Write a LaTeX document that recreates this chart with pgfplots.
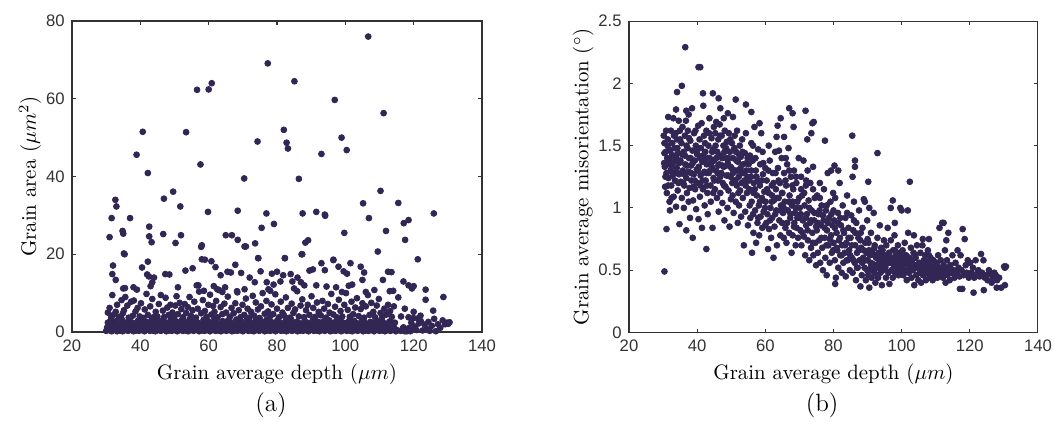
\documentclass[border=0pt]{standalone}
\usepackage{fontspec}
\usepackage{pgfplots}
\pgfplotsset{compat=1.18}
\newfontfamily\tickfont{Liberation Sans}
\definecolor{dotcol}{RGB}{50,38,84}
\definecolor{axcol}{RGB}{50,50,50}
\pgfplotsset{
  dots/.style={only marks, mark=*, mark size=1.4pt, color=dotcol,
      mark options={solid, draw=none, fill=dotcol}},
  mystyle/.style={
    scale only axis,
    anchor=south west,
    xmin=20, xmax=140,
    xtick={20,40,...,140},
    axis line style={axcol, line width=0.5pt},
    tick style={axcol, line width=0.5pt},
    major tick length=1.8pt,
    tick align=inside,
    ticklabel style={font=\tickfont\fontsize{8}{9}\selectfont, text=axcol},
    /pgf/number format/assume math mode=true,
    label style={font=\fontsize{10}{12}\selectfont},
    ylabel shift=-4.5pt,
    xlabel shift=-1pt,
    clip=false,
  }
}
\begin{document}
\begin{tikzpicture}
\useasboundingbox (0,0) rectangle (505.44pt,202.08pt);
% ---------------- panel (a)
\begin{axis}[mystyle,
  at={(34.56pt,42.72pt)}, width=196.8pt, height=149.28pt,
  ymin=0, ymax=80, ytick={0,20,...,80},
  xlabel={Grain average depth ($\mu m$)},
  ylabel={Grain area ($\mu m^2$)},
]
% sparse large grains
\addplot[dots] coordinates {
(106.7,76.0)(77.3,69.1)(85.1,64.5)(60.9,64.0)(60.0,62.4)(56.6,62.3)(96.9,59.7)(111.2,56.3)
(40.7,51.5)(53.4,51.4)(82.0,52.0)(98.9,50.0)(82.8,48.7)(83.2,47.2)(74.3,49.0)(100.4,46.8)
(38.9,45.6)(93.0,45.8)(57.6,43.1)(42.2,40.9)(70.4,39.5)(86.4,39.4)(110.3,36.3)(49.6,36.1)
(32.7,34.0)(33.0,32.3)(46.9,34.3)(51.7,32.3)(105.2,33.1)(115.5,33.2)(125.9,30.5)(59.8,30.9)
(68.5,31.2)(76.9,30.5)(87.5,30.5)(91.5,30.9)(94.0,30.2)(94.1,29.9)(31.6,29.3)(37.0,29.3)
(106.9,29.3)(118.5,28.8)(117.1,28.0)(79.1,27.8)(42.6,27.1)(75.5,26.8)(34.8,26.0)(35.0,25.3)
(111.9,26.0)(99.7,25.5)(31.0,24.4)(46.7,25.2)(51.9,24.9)(42.6,24.6)(43.3,23.1)(65.0,24.9)
(66.8,24.9)(68.5,23.7)(117.5,23.7)(50.3,22.9)(73.6,22.8)(57.8,21.9)(58.0,22.3)(70.5,22.0)
(70.9,22.0)(88.3,23.0)(89.1,23.6)(109.5,20.7)(121.2,18.7)(96.5,18.5)(42.2,18.1)(74.5,19.0)
(82.3,19.0)(58.9,18.6)(35.2,20.2)(35.4,20.0)(87.4,20.0)
};
% band 10-20
\addplot[dots] coordinates {
(32.0,17.1)(31.8,14.9)(32.8,13.4)(35.0,11.2)(35.5,11.3)(38.0,11.5)(39.0,10.9)(40.5,16.6)
(42.0,14.8)(42.5,14.3)(43.0,11.8)(43.5,12.8)(44.0,14.0)(47.3,14.9)(48.5,14.8)(51.0,11.5)
(53.2,15.8)(55.3,16.4)(56.5,12.0)(57.0,12.0)(58.0,18.7)(58.6,10.6)(60.8,18.2)(62.0,16.7)
(61.5,11.8)(62.5,11.0)(63.5,14.6)(64.0,10.3)(64.8,11.5)(65.5,15.5)(66.5,15.3)(67.8,17.3)
(68.3,10.5)(69.5,15.2)(70.5,11.0)(72.0,14.0)(73.5,12.8)(74.5,19.0)(75.2,15.6)(77.0,12.8)
(77.5,11.0)(78.0,10.6)(78.5,15.0)(79.0,12.2)(80.0,15.5)(81.0,13.0)(81.8,14.6)(82.3,19.0)
(84.0,14.9)(84.5,13.0)(85.0,11.2)(86.0,14.0)(87.0,12.8)(87.2,20.0)(88.0,12.0)(89.5,15.8)
(90.5,16.1)(91.5,12.0)(93.0,17.7)(94.0,15.9)(94.5,11.7)(96.5,18.6)(97.3,11.5)(98.0,16.8)
(99.0,10.3)(99.5,15.6)(100.5,15.0)(101.0,11.9)(101.5,17.7)(102.0,12.2)(104.5,16.8)(105.0,13.4)
(105.5,15.3)(106.0,10.3)(108.5,10.8)(111.0,13.4)(112.5,15.5)(113.0,10.5)(113.5,15.4)(114.0,10.6)
(117.0,13.0)(118.5,12.0)(119.5,11.2)(123.5,10.9)(120.0,11.8)
};
% band 3-10
\addplot[dots] coordinates {
(30.5,5.0)(31.0,6.2)(31.5,3.8)(31.8,9.5)(32.3,4.5)(32.8,5.2)(33.2,7.0)(33.8,3.9)(34.5,8.2)
(34.9,4.8)(35.2,5.6)(35.6,9.0)(36.2,6.8)(36.6,3.7)(37.3,7.8)(37.8,4.2)(38.1,8.1)(38.6,5.3)
(39.2,6.2)(39.8,4.0)(40.2,7.4)(40.6,3.6)(41.3,5.8)(41.8,9.8)(42.2,4.4)(42.9,6.6)(43.5,8.5)
(43.8,3.8)(44.5,5.2)(45.0,4.0)(45.4,7.2)(46.0,9.5)(46.6,5.5)(47.0,3.9)(47.4,8.8)(47.9,6.3)
(48.3,4.4)(48.8,7.0)(49.4,5.0)(49.9,3.6)(50.2,6.8)(50.6,9.2)(51.0,4.6)(51.5,7.5)(52.0,5.9)
(52.5,3.8)(53.0,7.2)(53.4,4.9)(53.9,6.4)(54.4,9.0)(54.8,4.2)(55.3,5.6)(55.8,7.8)(56.3,3.7)
(56.8,6.0)(57.2,10.4)(57.8,4.8)(58.3,8.2)(58.9,5.4)(59.4,3.9)(59.9,7.0)(60.4,9.6)(60.8,4.5)
(61.3,6.7)(61.7,5.2)(62.2,8.0)(62.6,3.8)(63.0,10.8)(63.5,6.4)(64.0,4.6)(64.6,7.3)(65.1,5.0)
(65.6,9.1)(66.2,3.9)(66.7,6.2)(67.3,4.8)(67.8,7.4)(68.4,10.2)(68.8,5.6)(69.3,3.8)(69.9,7.0)
(70.4,4.4)(70.9,8.6)(71.4,6.0)(71.9,3.7)(72.4,5.2)(72.9,9.3)(73.3,4.2)(73.8,7.6)(74.4,5.8)
(74.9,3.6)(75.3,6.6)(75.8,10.0)(76.4,4.7)(76.9,8.0)(77.4,5.3)(77.9,3.9)(78.4,7.1)(78.9,4.6)
(79.5,9.7)(80.0,6.0)(80.6,3.8)(81.1,7.8)(81.6,5.0)(82.1,4.2)(82.6,8.9)(83.2,6.2)(83.7,3.7)
(84.3,7.3)(84.8,4.9)(85.3,5.8)(85.9,10.5)(86.4,4.0)(86.9,6.8)(87.4,8.4)(87.9,3.8)(88.5,5.6)
(89.0,7.0)(89.5,4.4)(90.1,9.2)(90.6,6.2)(91.2,3.9)(91.7,7.6)(92.2,5.2)(92.8,4.3)(93.3,8.0)
(93.8,6.0)(94.4,3.7)(94.9,7.2)(95.4,5.0)(95.9,9.8)(96.5,4.5)(97.0,6.5)(97.5,3.8)(98.1,8.3)
(98.6,5.4)(99.1,4.0)(99.7,7.0)(100.2,10.0)(100.7,5.7)(101.3,3.9)(101.8,7.8)(102.3,4.6)(102.9,6.3)
(103.4,8.7)(103.9,4.1)(104.5,5.9)(105.0,7.4)(105.5,3.7)(106.0,6.6)(106.6,9.5)(107.1,4.4)(107.6,7.5)
(108.2,5.2)(108.7,3.8)(109.2,6.8)(109.8,8.5)(110.3,4.9)(110.8,3.7)(111.4,6.0)(112.0,4.5)(112.5,7.0)
(113.1,5.4)(113.6,3.9)(114.2,6.6)(115.5,8.9)(116.3,4.0)(117.4,6.0)(120.0,5.2)(122.0,4.2)(123.5,8.3)
(125.7,5.5)(128.7,9.0)(118.5,3.8)(121.2,3.5)
};
% dense band 0-3.5
\addplot[dots] coordinates {
(30.0,0.3)(30.3,1.2)(30.5,2.4)(30.8,0.5)(31.1,1.6)(31.3,3.0)(31.6,0.2)(31.9,1.0)(32.1,2.2)(32.4,0.6)(32.7,1.5)(32.9,2.8)
(33.2,0.2)(33.5,1.1)(33.7,2.0)(34.0,0.4)(34.3,1.8)(34.5,3.4)(34.8,0.2)(35.1,0.9)(35.3,2.5)(35.6,0.5)(35.9,1.4)(36.1,2.1)
(36.4,0.3)(36.7,1.7)(36.9,3.1)(37.2,0.6)(37.5,1.2)(37.7,2.4)(38.0,0.2)(38.3,1.0)(38.5,1.9)(38.8,0.4)(39.1,1.5)(39.3,2.9)
(39.6,0.3)(39.9,1.1)(40.1,2.2)(40.4,0.5)(40.7,1.8)(40.9,3.6)(41.2,0.2)(41.5,1.3)(41.7,2.6)(42.0,0.6)(42.3,1.0)(42.5,2.0)
(42.8,0.3)(43.1,1.6)(43.3,3.2)(43.6,0.4)(43.9,1.2)(44.1,2.3)(44.4,0.2)(44.7,1.7)(44.9,2.8)(45.2,0.5)(45.5,1.0)(45.7,2.1)
(46.0,0.3)(46.3,1.4)(46.5,3.0)(46.8,0.6)(47.1,1.9)(47.3,2.5)(47.6,0.2)(47.9,1.1)(48.1,2.2)(48.4,0.4)(48.7,1.5)(48.9,3.3)
(49.2,0.3)(49.5,1.2)(49.7,2.0)(50.0,0.5)(50.3,1.8)(50.5,2.7)(50.8,0.2)(51.1,1.0)(51.3,2.3)(51.6,0.6)(51.9,1.6)(52.1,3.0)
(52.4,0.3)(52.7,1.3)(52.9,2.1)(53.2,0.4)(53.5,1.9)(53.7,2.6)(54.0,0.2)(54.3,1.1)(54.5,3.4)(54.8,0.5)(55.1,1.5)(55.3,2.2)
(55.6,0.3)(55.9,1.0)(56.1,2.9)(56.4,0.6)(56.7,1.7)(56.9,2.4)(57.2,0.2)(57.5,1.2)(57.7,2.0)(58.0,0.4)(58.3,1.6)(58.5,3.1)
(58.8,0.3)(59.1,1.0)(59.3,2.3)(59.6,0.5)(59.9,1.8)(60.1,2.7)(60.4,0.2)(60.7,1.3)(60.9,2.1)(61.2,0.6)(61.5,1.1)(61.7,3.5)
(62.0,0.3)(62.3,1.5)(62.5,2.4)(62.8,0.4)(63.1,1.9)(63.3,2.0)(63.6,0.2)(63.9,1.0)(64.1,2.8)(64.4,0.5)(64.7,1.4)(64.9,2.2)
(65.2,0.3)(65.5,1.7)(65.7,3.0)(66.0,0.6)(66.3,1.2)(66.5,2.5)(66.8,0.2)(67.1,1.0)(67.3,2.0)(67.6,0.4)(67.9,1.6)(68.1,3.2)
(68.4,0.3)(68.7,1.3)(68.9,2.3)(69.2,0.5)(69.5,1.8)(69.7,2.6)(70.0,0.2)(70.3,1.1)(70.5,2.1)(70.8,0.6)(71.1,1.5)(71.3,3.4)
(71.6,0.3)(71.9,1.0)(72.1,2.4)(72.4,0.4)(72.7,1.9)(72.9,2.0)(73.2,0.2)(73.5,1.2)(73.7,2.9)(74.0,0.5)(74.3,1.6)(74.5,2.2)
(74.8,0.3)(75.1,1.0)(75.3,2.7)(75.6,0.6)(75.9,1.4)(76.1,2.0)(76.4,0.2)(76.7,1.8)(76.9,3.1)(77.2,0.4)(77.5,1.1)(77.7,2.3)
(78.0,0.3)(78.3,1.5)(78.5,2.5)(78.8,0.5)(79.1,1.0)(79.3,2.1)(79.6,0.2)(79.9,1.7)(80.1,3.0)(80.4,0.6)(80.7,1.2)(80.9,2.4)
(81.2,0.3)(81.5,1.9)(81.7,2.0)(82.0,0.4)(82.3,1.0)(82.5,2.8)(82.8,0.2)(83.1,1.4)(83.3,2.2)(83.6,0.5)(83.9,1.6)(84.1,3.3)
(84.4,0.3)(84.7,1.1)(84.9,2.0)(85.2,0.6)(85.5,1.8)(85.7,2.6)(86.0,0.2)(86.3,1.0)(86.5,2.3)(86.8,0.4)(87.1,1.5)(87.3,2.1)
(87.6,0.3)(87.9,1.2)(88.1,2.9)(88.4,0.5)(88.7,1.7)(88.9,2.4)(89.2,0.2)(89.5,1.0)(89.7,2.0)(90.0,0.6)(90.3,1.3)(90.5,3.1)
(90.8,0.3)(91.1,1.9)(91.3,2.2)(91.6,0.4)(91.9,1.1)(92.1,2.6)(92.4,0.2)(92.7,1.6)(92.9,2.0)(93.2,0.5)(93.5,1.0)(93.7,2.8)
(94.0,0.3)(94.3,1.4)(94.5,2.3)(94.8,0.6)(95.1,1.8)(95.3,3.0)(95.6,0.2)(95.9,1.2)(96.1,2.1)(96.4,0.4)(96.7,1.0)(96.9,2.5)
(97.2,0.3)(97.5,1.5)(97.7,2.0)(98.0,0.5)(98.3,1.7)(98.5,3.2)(98.8,0.2)(99.1,1.1)(99.3,2.4)(99.6,0.6)(99.9,1.3)(100.1,2.2)
(100.4,0.3)(100.7,1.9)(100.9,2.7)(101.2,0.4)(101.5,1.0)(101.7,2.0)(102.0,0.2)(102.3,1.6)(102.5,2.9)(102.8,0.5)(103.1,1.2)(103.3,2.3)
(103.6,0.3)(103.9,1.8)(104.1,2.1)(104.4,0.6)(104.7,1.0)(104.9,3.0)(105.2,0.2)(105.5,1.4)(105.7,2.4)(106.0,0.4)(106.3,1.7)(106.5,2.0)
(106.8,0.3)(107.1,1.1)(107.3,2.6)(107.6,0.5)(107.9,1.5)(108.1,2.2)(108.4,0.2)(108.7,1.0)(108.9,2.8)(109.2,0.6)(109.5,1.8)(109.7,2.1)
(110.0,0.3)(110.3,1.2)(110.5,3.2)(110.8,0.4)(111.1,1.6)(111.3,2.3)(111.6,0.2)(111.9,1.0)(112.1,2.0)(112.4,0.5)(112.7,1.4)(112.9,2.7)
(113.2,0.3)(113.5,1.9)(113.7,2.2)(114.0,0.6)(114.3,1.1)(114.5,2.4)(114.8,0.2)(115.1,0.5)
(116.2,0.3)(117.0,1.2)(117.4,0.2)(117.9,0.6)(118.3,0.4)(118.6,1.0)(119.0,0.2)(119.3,2.4)(119.9,3.6)(120.3,1.4)(120.8,0.5)
(121.5,2.2)(122.1,2.8)(122.6,0.4)(123.2,1.9)(123.8,0.8)(124.3,2.6)(124.7,0.3)(125.3,1.6)(126.0,3.4)(126.5,0.2)(127.1,2.0)
(127.8,1.1)(128.5,3.0)(129.2,2.0)(130.1,2.1)(130.5,2.5)(129.8,2.4)(116.8,0.9)(118.0,0.2)
};
\end{axis}
% ---------------- panel (b)
\begin{axis}[mystyle,
  at={(301.92pt,42.48pt)}, width=196.3pt, height=149.5pt,
  ymin=0, ymax=2.5, ytick={0,0.5,...,2.5},
  yticklabels={0,0.5,1,1.5,2,2.5},
  xlabel={Grain average depth ($\mu m$)},
  ylabel={Grain average misorientation ($^\circ$)},
]
\addplot[dots] coordinates {
(36.5,2.29)(40.4,2.13)(40.9,2.13)(35.5,1.98)(34.1,1.93)(44.6,1.92)(41.7,1.92)(46.3,1.88)
(51.3,1.87)(54.3,1.83)(55.9,1.77)(67.0,1.80)(71.8,1.78)(68.0,1.76)(73.8,1.68)(74.2,1.69)
(77.5,1.54)(85.5,1.58)(92.9,1.44)(102.4,1.21)(90.2,1.21)(86.3,1.38)(86.3,1.33)(97.4,1.06)
(101.8,0.98)(30.4,0.49)(42.7,0.67)(38.7,0.76)(31.0,0.83)(36.8,0.82)(117.8,0.35)(121.1,0.32)
(124.1,0.34)(127.9,0.36)(130.3,0.38)(130.1,0.53)(130.6,0.53)
};
\addplot[dots] coordinates {
(30.2,1.58)(30.4,1.52)(30.3,1.36)(30.5,1.33)(30.6,1.17)(30.8,1.45)(30.9,1.62)(31.0,1.28)(31.2,1.40)(31.1,1.12)
(31.4,1.55)(31.5,1.73)(31.6,1.24)(31.7,1.35)(31.8,1.47)(31.9,1.05)(32.0,0.98)(32.2,1.30)(32.3,1.62)(32.4,1.18)
(32.6,1.42)(32.7,1.52)(32.8,1.26)(33.0,1.72)(33.1,1.09)(33.3,1.37)(33.4,1.48)(33.5,1.22)(33.7,1.60)(33.8,1.01)
(34.0,1.32)(34.1,1.55)(34.3,1.14)(34.4,1.44)(34.6,1.70)(34.7,1.27)(34.8,0.87)(34.9,1.62)(33.8,1.79)
(35.1,1.38)(35.2,1.21)(35.4,1.52)(35.5,1.08)(35.7,1.65)(35.8,1.30)(36.0,1.45)(36.1,1.00)(36.2,1.18)(36.4,1.58)
(36.5,1.35)(36.7,1.70)(36.8,1.24)(37.0,1.12)(37.2,1.48)(37.3,1.62)(37.5,1.29)(37.6,1.40)(37.8,1.16)(37.9,0.92)
(38.0,1.54)(38.2,1.34)(38.3,1.22)(38.5,1.80)(38.6,1.46)(38.8,1.06)(39.0,1.27)(39.1,1.60)(39.3,1.38)(39.4,1.15)
(39.6,1.50)(39.7,0.99)(39.9,1.31)(36.8,1.78)(37.5,1.75)
(40.0,1.43)(40.1,1.20)(40.3,1.66)(40.4,0.91)(40.5,1.33)(40.7,1.55)(40.8,1.09)(41.0,1.26)(41.1,1.48)(41.3,1.68)
(41.4,0.84)(41.5,1.37)(41.7,1.15)(41.8,1.82)(42.0,1.58)(42.1,1.29)(42.2,1.02)(42.4,1.45)(42.5,1.22)(42.7,1.62)
(42.8,1.35)(43.0,1.12)(43.1,0.95)(43.3,1.50)(43.4,1.28)(43.6,1.72)(43.7,1.40)(43.9,1.18)(44.0,1.05)(44.2,1.56)
(44.3,1.33)(44.5,0.84)(44.6,1.47)(44.8,1.24)(44.9,1.65)
(45.0,1.38)(45.2,1.15)(45.3,1.60)(45.5,1.30)(45.6,1.69)(45.8,1.08)(45.9,1.45)(46.1,1.22)(46.2,1.55)(46.3,0.97)
(46.5,1.35)(46.6,1.67)(46.8,1.12)(46.9,1.42)(47.1,1.28)(47.2,1.58)(47.4,1.04)(47.5,1.20)(47.7,1.50)(47.8,1.33)
(48.0,0.90)(48.1,1.62)(48.3,1.17)(48.4,1.40)(48.6,1.26)(48.7,1.53)(48.9,1.00)(49.0,1.36)(49.2,1.14)(49.3,1.60)
(49.5,0.85)(49.6,1.45)(49.8,1.25)(49.9,1.07)(46.8,1.80)(47.8,1.72)(49.0,1.76)
(50.1,1.32)(50.2,1.52)(50.4,1.10)(50.5,1.40)(50.7,0.96)(50.8,1.22)(51.0,1.58)(51.1,1.30)(51.3,1.05)(51.4,1.45)
(51.6,1.18)(51.7,1.62)(51.9,0.88)(52.0,1.37)(52.2,1.25)(52.3,1.02)(52.5,1.50)(52.6,1.14)(52.8,1.41)(52.9,0.93)
(53.1,1.28)(53.2,1.55)(53.4,1.08)(53.5,1.35)(53.7,0.70)(53.8,1.20)(54.0,1.44)(54.1,0.97)(54.3,1.60)(54.4,1.30)
(54.6,1.12)(54.8,1.40)(54.9,0.86)(50.5,1.73)
(55.1,1.35)(55.3,1.15)(55.5,1.42)(55.6,0.92)(55.8,1.25)(56.0,1.05)(56.1,0.64)(56.3,1.38)(56.5,0.80)(56.6,1.20)
(56.8,1.65)(57.0,0.98)(57.2,1.30)(57.3,0.72)(57.5,1.10)(57.7,0.88)(57.9,1.47)(58.1,1.02)(58.2,0.78)(58.4,1.18)
(58.6,0.93)(58.8,1.60)(59.0,1.08)(59.1,0.84)(59.3,1.27)(59.5,0.97)(59.7,1.13)(59.9,0.86)(58.3,1.68)(56.4,1.50)
(60.1,1.05)(60.3,0.88)(60.4,1.22)(60.6,0.95)(60.8,0.67)(61.0,1.12)(61.1,0.83)(61.3,1.38)(61.5,1.00)(61.7,0.76)
(61.9,1.18)(62.0,0.92)(62.2,1.28)(62.4,0.60)(62.5,1.06)(62.7,0.85)(62.9,1.45)(63.1,1.15)(63.2,0.98)(63.4,0.70)
(63.6,1.66)(63.7,1.32)(63.9,1.08)(64.1,0.90)(64.3,1.20)(64.4,0.78)(64.6,1.02)(64.8,1.40)(64.9,0.88)(64.5,1.72)(63.3,1.57)
(65.0,1.12)(65.2,0.96)(65.4,0.76)(65.5,1.28)(65.7,1.05)(65.9,0.84)(66.1,1.18)(66.2,0.72)(66.4,1.35)(66.6,0.98)
(66.8,1.48)(67.0,0.80)(67.1,1.10)(67.3,0.92)(67.5,1.25)(67.7,0.64)(67.8,1.02)(68.0,0.78)(68.2,1.15)(68.4,1.30)
(68.5,0.88)(68.7,0.96)(68.9,0.70)(69.1,1.20)(69.2,0.84)(69.4,1.05)(69.6,0.76)(69.8,1.40)(69.9,0.92)(68.3,1.65)(65.5,1.57)
(70.1,1.00)(70.3,0.82)(70.5,1.25)(70.6,0.70)(70.8,1.10)(71.0,0.90)(71.2,1.38)(71.3,0.77)(71.5,1.02)(71.7,0.62)
(71.9,1.18)(72.0,0.86)(72.2,0.95)(72.4,1.30)(72.5,0.74)(72.7,1.06)(72.9,0.58)(73.1,0.88)(73.2,1.20)(73.4,0.68)
(73.6,0.98)(73.8,0.80)(74.0,1.33)(74.1,0.62)(74.3,0.90)(74.5,1.08)(74.7,0.72)(74.9,0.54)(73.5,1.60)(72.3,1.55)
(75.1,0.82)(75.2,1.10)(75.4,0.64)(75.6,0.95)(75.8,0.74)(76.0,1.20)(76.1,0.56)(76.3,0.86)(76.5,1.02)(76.7,0.68)
(76.9,0.50)(77.1,0.90)(77.2,1.15)(77.4,0.76)(77.6,0.60)(77.8,0.98)(78.0,0.46)(78.1,0.82)(78.3,1.28)(78.5,0.70)
(78.7,0.92)(78.9,0.56)(79.1,1.05)(79.3,0.78)(79.5,0.64)(79.7,0.86)(79.9,1.12)(79.3,1.30)
(80.0,0.72)(80.2,0.90)(80.4,0.58)(80.5,1.08)(80.7,0.44)(80.9,0.80)(81.1,0.66)(81.3,0.96)(81.4,0.52)(81.6,0.74)
(81.8,1.20)(82.0,0.62)(82.2,0.86)(82.4,0.48)(82.5,0.70)(82.7,1.02)(82.9,0.56)(83.1,0.80)(83.3,0.64)(83.5,0.92)
(83.6,0.45)(83.8,0.72)(84.0,1.10)(84.2,0.58)(84.4,0.84)(84.6,0.66)(84.8,0.50)(80.3,1.34)(80.5,0.39)(81.4,1.30)
(85.0,0.76)(85.2,0.94)(85.4,0.60)(85.6,0.48)(85.8,0.82)(86.0,1.05)(86.2,0.56)(86.4,0.70)(86.6,0.42)(86.7,0.88)
(86.9,0.64)(87.1,0.52)(87.3,0.76)(87.5,0.98)(87.7,0.58)(87.9,0.37)(88.1,0.68)(88.3,0.46)(88.5,0.84)(88.7,0.60)
(88.9,1.07)(89.1,0.52)(89.3,0.72)(89.5,0.42)(89.7,0.64)(89.9,0.90)(85.6,1.25)(89.2,1.05)
(90.0,0.58)(90.2,0.46)(90.3,0.72)(90.5,0.36)(90.7,0.62)(90.9,0.52)(91.0,0.80)(91.2,0.44)(91.4,0.66)(91.6,0.55)
(91.8,0.96)(92.0,0.48)(92.1,0.70)(92.3,0.40)(92.5,0.60)(92.7,0.52)(92.9,0.76)(93.1,0.44)(93.2,0.64)(93.4,0.56)
(93.6,0.86)(93.8,0.48)(94.0,0.68)(94.2,0.38)(94.4,0.58)(94.6,0.50)(94.8,0.74)(90.5,1.00)
(95.0,0.62)(95.2,0.52)(95.4,0.44)(95.5,0.70)(95.7,0.58)(95.9,0.84)(96.1,0.48)(96.3,0.64)(96.4,0.39)(96.6,0.56)
(96.8,0.74)(97.0,0.50)(97.2,0.60)(97.4,0.44)(97.5,0.66)(97.7,0.54)(97.9,0.78)(98.1,0.48)(98.3,0.62)(98.5,0.58)
(98.7,0.52)(98.9,0.70)(99.1,0.46)(99.3,0.64)(99.5,0.56)(99.7,0.50)(99.9,0.60)(99.6,1.00)(100.0,0.98)(96.8,1.00)(98.0,0.88)
(100.1,0.54)(100.3,0.66)(100.5,0.46)(100.7,0.58)(100.9,0.72)(101.1,0.50)(101.3,0.62)(101.5,0.42)(101.7,0.56)(101.9,0.80)
(102.1,0.48)(102.3,0.60)(102.5,0.52)(102.7,0.68)(102.9,0.44)(103.1,0.58)(103.3,0.50)(103.5,0.64)(103.7,0.38)(103.9,0.54)
(104.1,0.60)(104.3,0.46)(104.5,0.70)(104.7,0.52)(104.9,0.42)(103.6,0.78)
(105.1,0.56)(105.3,0.48)(105.5,0.64)(105.7,0.40)(105.9,0.52)(106.1,0.70)(106.3,0.46)(106.5,0.58)(106.7,0.50)(106.9,0.62)
(107.1,0.42)(107.3,0.54)(107.5,0.48)(107.7,0.66)(107.9,0.52)(108.1,0.44)(108.3,0.56)(108.5,0.60)(108.7,0.48)(108.9,0.52)
(109.1,0.42)(109.3,0.58)(109.5,0.50)(109.7,0.46)(109.9,0.54)(106.2,0.75)(108.0,0.75)
(110.1,0.48)(110.3,0.56)(110.5,0.44)(110.7,0.62)(110.9,0.50)(111.1,0.84)(111.3,0.46)(111.5,0.58)(111.7,0.52)(111.9,0.88)
(112.1,0.44)(112.3,0.54)(112.5,0.48)(112.7,0.66)(112.9,0.40)(113.1,0.52)(113.3,0.58)(113.5,0.46)(113.7,0.80)(113.9,0.50)
(114.1,0.42)(114.3,0.54)(114.6,0.48)(114.9,0.62)(112.3,0.88)(113.1,0.74)
(115.2,0.50)(115.5,0.44)(115.8,0.56)(116.1,0.48)(116.4,0.66)(116.7,0.52)(117.0,0.45)(117.3,0.62)(117.6,0.50)(117.9,0.83)
(118.2,0.46)(118.5,0.75)(118.8,0.54)(119.1,0.48)(119.4,0.58)(119.7,0.44)(117.1,0.35)
(120.1,0.56)(120.5,0.48)(120.9,0.52)(121.3,0.44)(121.7,0.58)(122.1,0.47)(122.5,0.50)(122.9,0.45)(123.3,0.63)(123.6,0.48)
(124.0,0.58)(124.4,0.44)(124.8,0.46)(125.2,0.42)(125.6,0.50)(126.0,0.47)(126.4,0.40)(126.8,0.44)(127.2,0.48)(127.6,0.46)
(128.0,0.42)(128.6,0.44)(129.2,0.36)(130.3,0.52)
};
\addplot[dots] coordinates {
(30.7,1.25)(31.3,1.50)(31.9,1.38)(32.5,1.08)(33.2,1.58)(33.9,1.40)(34.5,1.20)(35.0,1.55)(35.6,1.43)(36.3,1.27)
(36.9,1.50)(37.5,1.05)(38.1,1.40)(38.9,1.17)(39.5,1.62)(40.2,1.30)(40.9,1.40)(41.6,1.22)(42.3,1.52)(42.9,1.18)
(43.5,1.60)(44.1,1.36)(44.7,1.12)(45.4,1.50)(46.0,1.28)(46.7,1.58)(47.3,1.40)(47.9,1.18)(48.5,1.48)(49.1,1.26)
(49.7,1.55)(50.3,1.20)(50.9,1.48)(51.5,1.38)(52.1,1.12)(52.7,1.32)(53.3,1.45)(53.9,1.22)(54.5,1.36)(55.2,1.22)
(55.9,1.52)(56.5,1.12)(57.1,1.40)(57.8,1.22)(58.5,1.35)(59.2,1.45)(60.0,1.32)(61.0,1.50)(62.0,1.10)(63.0,1.28)
(64.0,1.46)(66.0,1.40)(67.0,1.30)(68.0,1.05)(69.0,1.25)(70.5,1.15)(72.0,1.22)(74.0,1.15)(76.0,1.08)(78.0,1.02)
(80.0,0.98)(82.0,0.92)(84.0,0.96)(86.0,0.90)(88.0,0.80)(90.0,0.75)(92.0,0.68)(94.0,0.62)(96.0,0.60)(98.0,0.66)
(100.0,0.62)(102.0,0.58)(104.0,0.62)(106.0,0.56)(108.0,0.62)(110.0,0.56)
};
\addplot[dots] coordinates {
(55.4,1.02)(55.9,1.30)(56.4,0.95)(56.9,1.15)(57.4,1.25)(57.9,0.92)(58.4,1.05)(58.9,1.22)(59.4,1.36)(59.9,1.00)
(60.5,1.15)(60.9,1.30)(61.4,0.90)(61.9,1.05)(62.4,1.20)(62.9,0.95)(63.4,1.08)(63.9,1.22)(64.4,0.98)(64.9,1.12)
(65.4,1.00)(65.9,1.22)(66.4,0.88)(66.9,1.05)(67.4,0.95)(67.9,1.18)(68.4,0.85)(68.9,1.00)(69.4,0.92)(69.9,1.08)
(70.4,0.95)(70.9,0.80)(71.4,1.12)(71.9,0.92)(72.4,0.82)(72.9,1.00)(73.4,0.90)(73.9,0.72)(74.4,0.96)(74.9,0.85)
(75.4,0.88)(75.9,0.98)(76.4,0.76)(76.9,0.94)(77.4,0.84)(77.9,0.70)(78.4,0.88)(78.9,0.75)(79.4,0.95)(79.9,0.66)
(80.4,0.84)(80.9,0.68)(81.4,0.88)(81.9,0.76)(82.4,0.62)(82.9,0.82)(83.4,0.70)(83.9,0.58)(84.4,0.76)(84.9,0.62)
(85.4,0.70)(85.9,0.58)(86.4,0.80)(86.9,0.52)(87.4,0.66)(87.9,0.74)(88.4,0.56)(88.9,0.66)(89.4,0.58)(89.9,0.50)
(90.4,0.66)(90.9,0.56)(91.4,0.50)(91.9,0.62)(92.4,0.54)(92.9,0.46)(93.4,0.60)(93.9,0.52)(94.4,0.66)(94.9,0.56)
(30.4,1.44)(31.0,1.35)(31.5,1.18)(32.1,1.46)(32.6,1.33)(33.1,1.42)(33.6,1.28)(34.2,1.48)(34.7,1.36)(35.3,1.28)
(35.9,1.20)(36.4,1.42)(37.0,1.34)(37.6,1.56)(38.2,1.28)(38.7,1.36)(39.3,1.22)(39.8,1.45)(40.5,1.48)(41.0,1.18)
(41.6,1.42)(42.1,1.38)(42.7,1.28)(43.2,1.40)(43.8,1.30)(44.4,1.45)(45.0,1.22)(45.6,1.40)(46.2,1.34)(46.8,1.25)
(47.4,1.34)(48.0,1.45)(48.6,1.34)(49.2,1.40)(49.8,1.33)(50.5,1.28)(51.2,1.22)(51.8,1.30)(52.4,1.42)(53.0,1.20)
(53.6,1.28)(54.2,1.18)(54.8,1.25)
(95.3,0.54)(96.2,0.58)(97.1,0.56)(98.2,0.55)(99.2,0.54)(100.2,0.58)(101.2,0.55)(102.2,0.56)(103.2,0.55)(104.2,0.53)
(105.2,0.52)(106.4,0.55)(107.4,0.57)(108.6,0.53)(109.6,0.51)(110.6,0.53)(111.6,0.50)(112.6,0.52)
};
\end{axis}
\node[font=\fontsize{12}{14}\selectfont] at (130.1pt,7.7pt) {(a)};
\node[font=\fontsize{12}{14}\selectfont] at (394.6pt,7.7pt) {(b)};
\end{tikzpicture}
\end{document}
